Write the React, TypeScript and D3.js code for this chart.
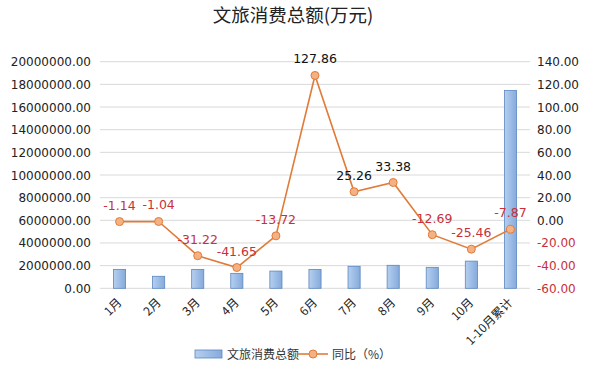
import React from "react";
import * as d3 from "d3";

const categories = ["1月", "2月", "3月", "4月", "5月", "6月", "7月", "8月", "9月", "10月", "1-10月累计"];
const totals = [1670000, 1060000, 1670000, 1320000, 1520000, 1670000, 1940000, 2030000, 1850000, 2400000, 17470000];
const yoy = [-1.14, -1.04, -31.22, -41.65, -13.72, 127.86, 25.26, 33.38, -12.69, -25.46, -7.87];
const leftTicks = [0, 2000000, 4000000, 6000000, 8000000, 10000000, 12000000, 14000000, 16000000, 18000000, 20000000];
const rightTicks = [-60, -40, -20, 0, 20, 40, 60, 80, 100, 120, 140];

const W = 599, H = 372;
const left = 100, right = 530, top = 61.7, bottom = 288.3;
const RED = "#c9303a";
const ORANGE = "#e07b39";
const FONT = "'DejaVu Sans', sans-serif";
const CJK = "'Noto Sans CJK SC', sans-serif";

export default function App() {
  const x = d3.scaleBand<string>().domain(categories).range([left, right]).padding(0);
  const yL = d3.scaleLinear().domain([0, 20000000]).range([bottom, top]);
  const yR = d3.scaleLinear().domain([-60, 140]).range([bottom, top]);
  const bw = x.bandwidth() * 0.31;
  const cx = (c: string) => (x(c) as number) + x.bandwidth() / 2;
  const line = d3.line<number>().x((_, i) => cx(categories[i])).y((d) => yR(d));

  return (
    <svg width={W} height={H} style={{ position: "absolute", left: 0, top: 0, background: "#fff" }}>
      <defs>
        <linearGradient id="barg" x1="0" x2="1" y1="0" y2="0">
          <stop offset="0" stopColor="#b6cfee" />
          <stop offset="0.5" stopColor="#9dbde6" />
          <stop offset="1" stopColor="#86aadb" />
        </linearGradient>
      </defs>
      <text x={293} y={22} textAnchor="middle" fontFamily={CJK} fontSize={18.5} fill="#222">文旅消费总额(万元)</text>
      {leftTicks.map((t) => (
        <line key={"g" + t} x1={left} x2={right} y1={yL(t)} y2={yL(t)} stroke="#d9d9d9" strokeWidth={1} />
      ))}
      {leftTicks.map((t) => (
        <text key={"l" + t} x={91} y={yL(t) + 4.5} textAnchor="end" fontFamily={FONT} fontSize={12} fill="#222">
          {t.toFixed(2)}
        </text>
      ))}
      {rightTicks.map((t) => (
        <text key={"r" + t} x={537} y={yR(t) + 4.5} textAnchor="start" fontFamily={FONT} fontSize={12} fill={t < 0 ? RED : "#222"}>
          {t.toFixed(2)}
        </text>
      ))}
      {categories.map((c, i) => (
        <rect key={"b" + c} x={cx(c) - bw / 2} y={yL(totals[i])} width={bw} height={bottom - yL(totals[i])}
          fill="url(#barg)" stroke="#5b87c0" strokeWidth={0.8} />
      ))}
      {categories.map((c) => (
        <text key={"x" + c} transform={`translate(${cx(c) + 3},${bottom + 15}) rotate(-45)`} textAnchor="end"
          fontFamily={CJK} fontSize={12} fill="#222">{c}</text>
      ))}
      <path d={line(yoy) as string} fill="none" stroke={ORANGE} strokeWidth={1.6} />
      {yoy.map((v, i) => (
        <circle key={"p" + i} cx={cx(categories[i])} cy={yR(v)} r={4} fill="#f4b183" stroke={ORANGE} strokeWidth={1} />
      ))}
      {yoy.map((v, i) => (
        <text key={"t" + i} x={cx(categories[i])} y={yR(v) - 12} textAnchor="middle" fontFamily={FONT} fontSize={12.5}
          fill={v < 0 ? RED : "#111"}>{v.toFixed(2)}</text>
      ))}
      <rect x={195} y={350} width={27} height={8} fill="url(#barg)" stroke="#5b87c0" strokeWidth={0.8} />
      <text x={227} y={358.5} fontFamily={CJK} fontSize={12} fill="#333">文旅消费总额</text>
      <line x1={298} x2={328} y1={354} y2={354} stroke={ORANGE} strokeWidth={1.6} />
      <circle cx={313} cy={354} r={4} fill="#f4b183" stroke={ORANGE} />
      <text x={332} y={358.5} fontFamily={CJK} fontSize={12} fill="#333">同比（%）</text>
    </svg>
  );
}
